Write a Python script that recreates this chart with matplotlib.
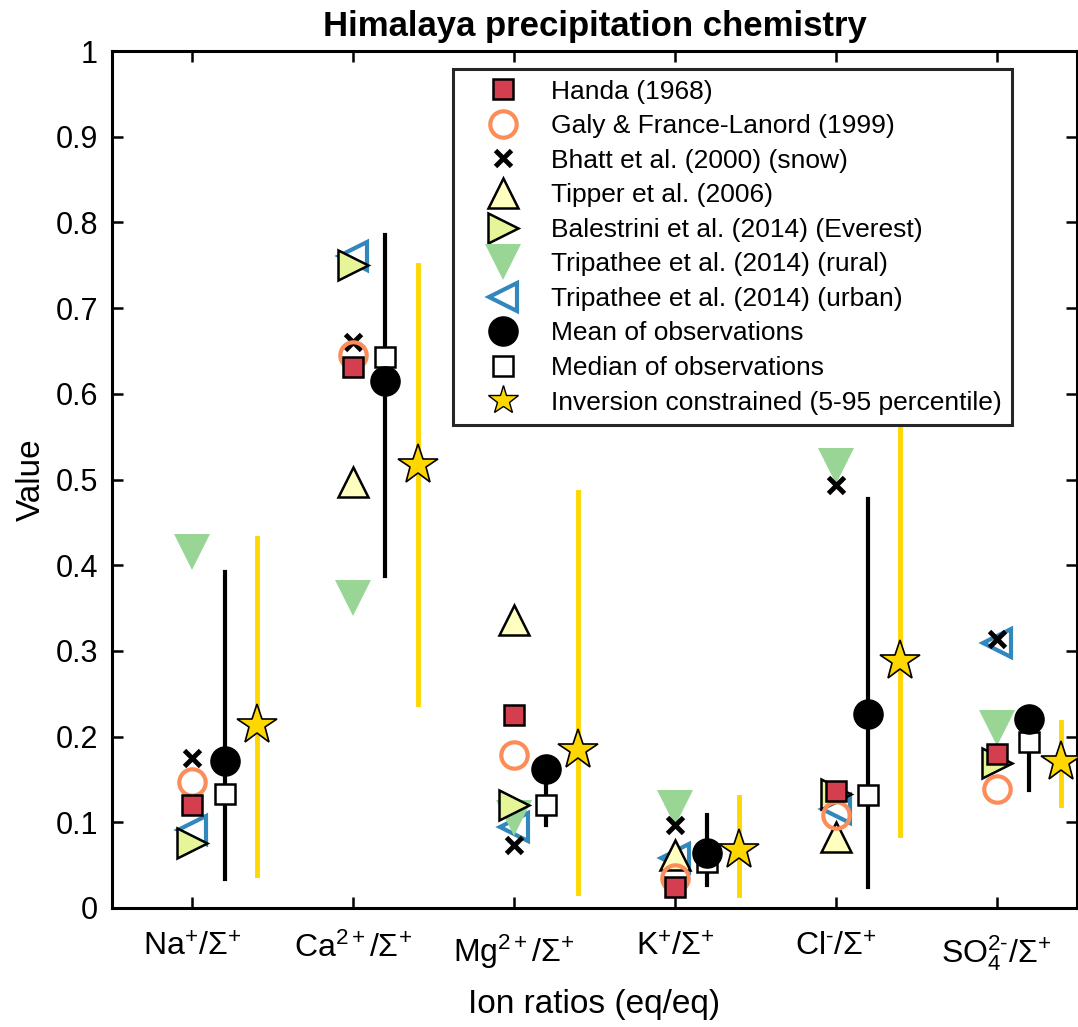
import numpy as np
import matplotlib
matplotlib.use('Agg')
import matplotlib.pyplot as plt
from matplotlib.lines import Line2D

plt.rcParams['font.family'] = ['Liberation Sans', 'DejaVu Sans']
plt.rcParams['mathtext.fontset'] = 'custom'
plt.rcParams['mathtext.rm'] = 'Liberation Sans'
plt.rcParams['mathtext.it'] = 'Liberation Sans:italic'
plt.rcParams['mathtext.bf'] = 'Liberation Sans:bold'

nan = np.nan

# ion ratio categories
ions = ['Na', 'Ca', 'Mg', 'K', 'Cl', 'SO4']
ion_labels = [r'Na$^{+}$/$\Sigma^{+}$', r'Ca$^{2+}$/$\Sigma^{+}$', r'Mg$^{2+}$/$\Sigma^{+}$',
              r'K$^{+}$/$\Sigma^{+}$', r'Cl$^{\text{-}}$/$\Sigma^{+}$', r'SO$_4^{2\text{-}}$/$\Sigma^{+}$']

# published observations
handa = [0.120, 0.631, 0.225, 0.025, 0.137, 0.180]
galy = [0.147, 0.645, 0.179, 0.035, 0.109, 0.139]
bhatt = [0.175, 0.661, 0.074, 0.097, 0.494, 0.314]
tipper = [nan, 0.497, 0.336, 0.062, 0.083, nan]
balestrini = [0.076, 0.750, 0.120, nan, 0.133, 0.169]
tripathee_rural = [0.415, 0.362, 0.105, 0.117, 0.516, 0.210]
tripathee_urban = [0.091, 0.761, 0.095, 0.058, 0.116, 0.309]

# summary of observations
obs_mean = [0.171, 0.615, 0.162, 0.064, 0.226, 0.220]
obs_median = [0.133, 0.643, 0.120, 0.054, 0.132, 0.194]
obs_lo = [0.034, 0.387, 0.097, 0.027, 0.025, 0.138]
obs_hi = [0.392, 0.785, 0.150, 0.108, 0.477, 0.220]

# inversion result
inv_mid = [0.213, 0.517, 0.184, 0.068, 0.288, 0.170]
inv_lo = [0.038, 0.238, 0.018, 0.015, 0.085, 0.120]
inv_hi = [0.432, 0.750, 0.486, 0.130, 0.600, 0.217]

x = np.arange(1, len(ions) + 1)

fig = plt.figure(figsize=(10.78, 10.27), dpi=100)
ax = fig.add_axes([0.1039, 0.1159, 0.8951, 0.8344])

# each study: (values, marker, size, face, edge, edge width, label)
studies = [
    (handa, 's', 15, '#D53E4F', 'black', 1.8, 'Handa (1968)'),
    (galy, 'o', 19, 'none', '#FC8D59', 3.0, 'Galy & France-Lanord (1999)'),
    (bhatt, 'x', 12, 'black', 'black', 3.5, 'Bhatt et al. (2000) (snow)'),
    (tipper, '^', 22, '#FFFFBF', 'black', 1.8, 'Tipper et al. (2006)'),
    (balestrini, '>', 22, '#E6F598', 'black', 1.8, 'Balestrini et al. (2014) (Everest)'),
    (tripathee_rural, 'v', 26, '#99D594', 'none', 0, 'Tripathee et al. (2014) (rural)'),
    (tripathee_urban, '<', 20, 'none', '#3288BD', 3.0, 'Tripathee et al. (2014) (urban)'),
]

handles = []
for vals, mk, ms, fc, ec, mew, lab in studies[::-1]:
    ax.plot(x, vals, ls='none', marker=mk, ms=ms, mfc=fc, mec=ec, mew=mew)
for vals, mk, ms, fc, ec, mew, lab in studies:
    handles.append(Line2D([], [], ls='none', marker=mk, ms=ms, mfc=fc, mec=ec, mew=mew, label=lab))

for i in range(len(ions)):
    ax.plot([x[i] + 0.2, x[i] + 0.2], [obs_lo[i], obs_hi[i]], color='black', lw=3, zorder=3)
    ax.plot([x[i] + 0.4, x[i] + 0.4], [inv_lo[i], inv_hi[i]], color='#FFD700', lw=3.5, zorder=3)

ax.plot(x + 0.2, obs_median, ls='none', marker='s', ms=15, mfc='white', mec='black', mew=1.8, zorder=4)
ax.plot(x + 0.2, obs_mean, ls='none', marker='o', ms=21, mfc='black', mec='black', zorder=5)
ax.plot(x + 0.4, inv_mid, ls='none', marker='*', ms=30, mfc='#FFD700', mec='black', mew=1.2, zorder=5)

handles.append(Line2D([], [], ls='none', marker='o', ms=21, mfc='black', mec='black',
                      label='Mean of observations'))
handles.append(Line2D([], [], ls='none', marker='s', ms=15, mfc='white', mec='black', mew=1.8,
                      label='Median of observations'))
handles.append(Line2D([], [], ls='none', marker='*', ms=22, mfc='#FFD700', mec='black', mew=1.0,
                      label='Inversion constrained (5-95 percentile)'))

leg = ax.legend(handles=handles, loc='upper left', bbox_to_anchor=(0.3534, 0.979), fontsize=19,
                frameon=True, fancybox=False, edgecolor='#262626', framealpha=1,
                borderaxespad=0, labelspacing=0.4, handletextpad=0.3, borderpad=0.4,
                handlelength=3.0)
leg.get_frame().set_linewidth(2.2)
leg.set_zorder(10)

ax.set_xlim(0.5, 6.5)
ax.set_ylim(0, 1)
ax.set_xticks(x)
ax.set_xticklabels(ion_labels)
ax.set_yticks(np.arange(0, 1.01, 0.1))
ax.set_yticklabels(['0', '0.1', '0.2', '0.3', '0.4', '0.5', '0.6', '0.7', '0.8', '0.9', '1'])
ax.tick_params(direction='in', length=8, width=1.8, labelsize=22, top=True, right=True)
ax.tick_params(axis='x', pad=18, labelsize=23)
ax.tick_params(axis='y', pad=10)
for s in ax.spines.values():
    s.set_linewidth(2.2)

ax.set_xlabel('Ion ratios (eq/eq)', fontsize=24, labelpad=12)
ax.set_ylabel('Value', fontsize=24, labelpad=6)
ax.set_title('Himalaya precipitation chemistry', fontsize=25, fontweight='bold', pad=11)

fig.savefig('out.png', dpi=100)
